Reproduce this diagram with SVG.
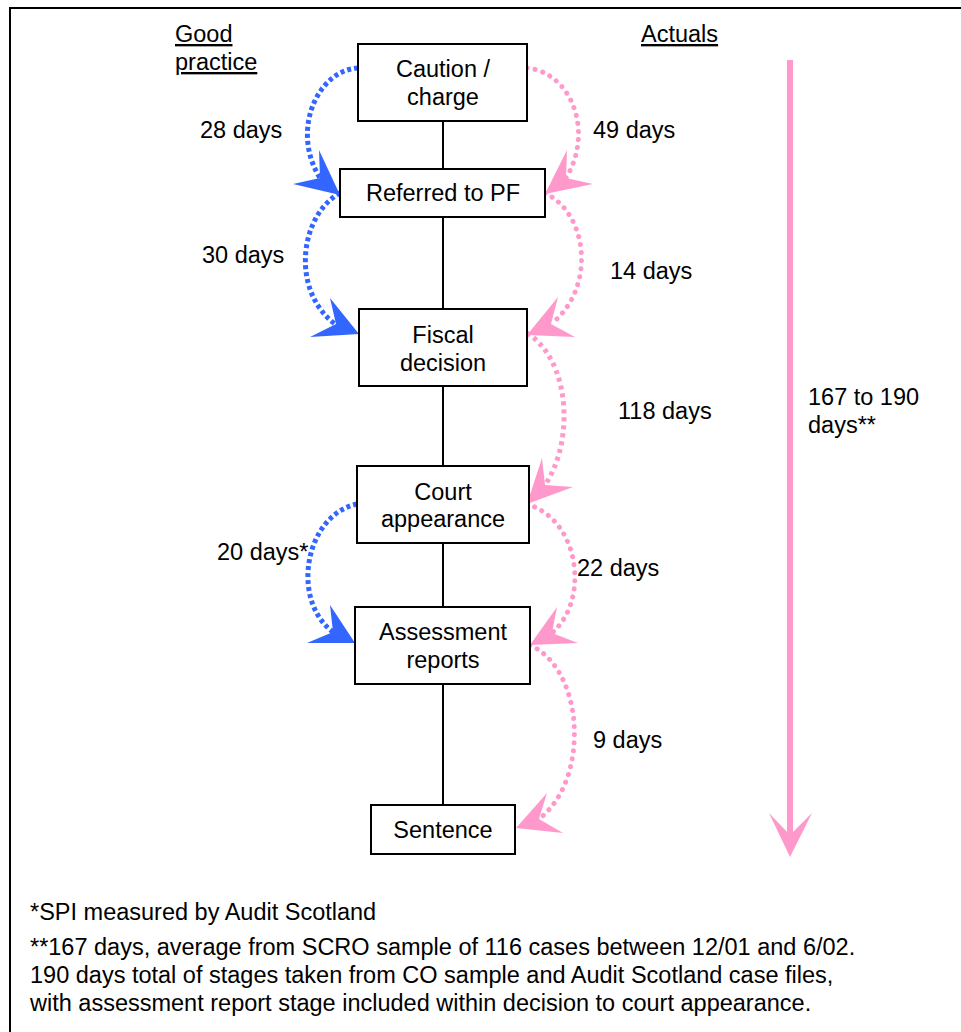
<svg xmlns="http://www.w3.org/2000/svg" width="961" height="1032" viewBox="0 0 961 1032">
<defs>
<style>
text{font-family:"Liberation Sans",Arial,sans-serif;font-size:23.5px;fill:#000}
.c{text-anchor:middle}
.box{fill:#fff;stroke:#000;stroke-width:2}
.link{stroke:#000;stroke-width:2;fill:none}
.blue{fill:none;stroke:#3366ff;stroke-width:5;stroke-dasharray:4 3}
.pink{fill:none;stroke:#ff99cc;stroke-width:5;stroke-linecap:round;stroke-dasharray:0.1 8}
.pinksq{fill:none;stroke:#ff99cc;stroke-width:5;stroke-dasharray:4 4}
.bh{fill:#3366ff}
.ph{fill:#ff99cc}
</style>
</defs>
<rect width="961" height="1032" fill="#fff"/>
<path d="M10,1040 V8 H970" fill="none" stroke="#000" stroke-width="2"/>
<g id="headers">
<text x="175" y="42" text-decoration="underline">Good</text>
<text x="175" y="70" text-decoration="underline">practice</text>
<text x="641" y="42" text-decoration="underline">Actuals</text>
</g>
<g id="connectors">
<path class="link" d="M443,121V169M443,217V309M443,386V466M443,543V607M443,684V805"/>
<path class="blue" d="M358,68 C318,70 290,130 320,178"/>
<polygon class="bh" points="340,195 293,184 320,178 319,150"/>
<path class="blue" d="M340,193 C300,215 290,290 335,324"/>
<polygon class="bh" points="359,334 310,337 336,324 330,298"/>
<path class="blue" d="M357,504 C305,515 290,600 333,632"/>
<polygon class="bh" points="355,643 307,643 333,632 330,605"/>
<path class="pink" d="M527,68 C570,72 595,130 566,178"/>
<polygon class="ph" points="545,194 593,184 566,178 567,150"/>
<path class="pink" d="M545,193 C590,215 595,290 551,324"/>
<polygon class="ph" points="527,335 575,337 551,324 558,297"/>
<path class="pinksq" d="M527,333 C570,360 575,440 545,485"/>
<polygon class="ph" points="527,504 573,487 545,485 542,458"/>
<path class="pink" d="M527,504 C580,520 590,600 552,633"/>
<polygon class="ph" points="530,645 578,643 552,633 557,607"/>
<path class="pink" d="M530,645 C585,670 590,780 539,819"/>
<polygon class="ph" points="516,828 563,833 539,819 547,793"/>
<line x1="790" y1="60" x2="790" y2="840" stroke="#ff99cc" stroke-width="6"/>
<polygon class="ph" points="769,813 790,835 812,813 790,857"/>
</g>
<g id="labels">
<text x="200" y="138">28 days</text>
<text x="593" y="138">49 days</text>
<text x="202" y="263">30 days</text>
<text x="610" y="279">14 days</text>
<text x="618" y="419">118 days</text>
<text x="808" y="405">167 to 190</text>
<text x="808" y="433">days**</text>
<text x="217" y="560">20 days*</text>
<text x="577" y="576">22 days</text>
<text x="593" y="748">9 days</text>
</g>
<g id="n-caution">
<rect class="box" x="358" y="44" width="169" height="77"/>
<text class="c" x="443" y="77">Caution /</text>
<text class="c" x="443" y="105">charge</text>
</g>
<g id="n-referred">
<rect class="box" x="340" y="169" width="205" height="48"/>
<text class="c" x="443" y="201">Referred to PF</text>
</g>
<g id="n-fiscal">
<rect class="box" x="359" y="309" width="168" height="77"/>
<text class="c" x="443" y="343">Fiscal</text>
<text class="c" x="443" y="371">decision</text>
</g>
<g id="n-court">
<rect class="box" x="357" y="466" width="172" height="77"/>
<text class="c" x="443" y="500">Court</text>
<text class="c" x="443" y="527">appearance</text>
</g>
<g id="n-assessment">
<rect class="box" x="355" y="607" width="175" height="77"/>
<text class="c" x="443" y="640">Assessment</text>
<text class="c" x="443" y="668">reports</text>
</g>
<g id="n-sentence">
<rect class="box" x="371" y="805" width="144" height="49"/>
<text class="c" x="443" y="838">Sentence</text>
</g>
<g id="footnotes">
<text x="30" y="920">*SPI measured by Audit Scotland</text>
<text x="30" y="955">**167 days, average from SCRO sample of 116 cases between 12/01 and 6/02.</text>
<text x="30" y="983">190 days total of stages taken from CO sample and Audit Scotland case files,</text>
<text x="30" y="1011">with assessment report stage included within decision to court appearance.</text>
</g>
</svg>
